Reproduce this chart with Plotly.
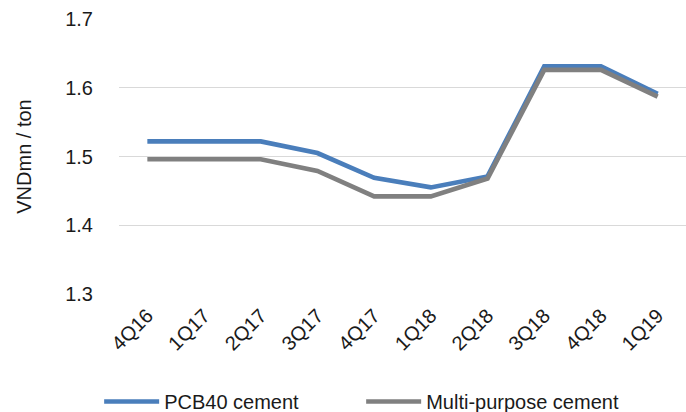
import plotly.graph_objects as go

quarters = ["4Q16", "1Q17", "2Q17", "3Q17", "4Q17", "1Q18", "2Q18", "3Q18", "4Q18", "1Q19"]
pcb40 = [1.522, 1.522, 1.522, 1.505, 1.469, 1.455, 1.471, 1.631, 1.631, 1.591]
multi_purpose = [1.496, 1.496, 1.496, 1.479, 1.442, 1.442, 1.468, 1.626, 1.626, 1.587]

font_family = "Liberation Sans, Arial, sans-serif"

fig = go.Figure()
fig.add_trace(go.Scatter(
    x=quarters, y=pcb40, mode="lines", name="PCB40 cement",
    line=dict(color="#4a7ebb", width=4.7),
))
fig.add_trace(go.Scatter(
    x=quarters, y=multi_purpose, mode="lines", name="Multi-purpose cement",
    line=dict(color="#808080", width=4.7),
))

fig.update_layout(
    width=686, height=412,
    margin=dict(l=119, r=0, t=19, b=118, autoexpand=False),
    paper_bgcolor="white", plot_bgcolor="white",
    font=dict(family=font_family, size=20, color="#1a1a1a"),
    showlegend=True,
    legend=dict(
        orientation="h", x=-0.035, xanchor="left", y=-0.32, yanchor="top",
        font=dict(size=20, color="#1a1a1a"),
        itemwidth=55, entrywidth=192,
    ),
)
fig.update_xaxes(
    type="category", tickangle=-45, showgrid=False, showline=False,
    ticks="", tickfont=dict(size=20), range=[-0.5, 9.5], automargin=False,
    ticklabelstandoff=5,
)
fig.update_yaxes(
    range=[1.3, 1.7], dtick=0.1, tickformat=".1f", tickfont=dict(size=20),
    showgrid=True, gridcolor="#d9d9d9", gridwidth=1.3, zeroline=False,
    showline=False, ticks="", ticklabelstandoff=25, automargin=False,
    title=dict(text="VNDmn / ton", font=dict(size=20), standoff=28),
)

fig.write_html("out.html")
